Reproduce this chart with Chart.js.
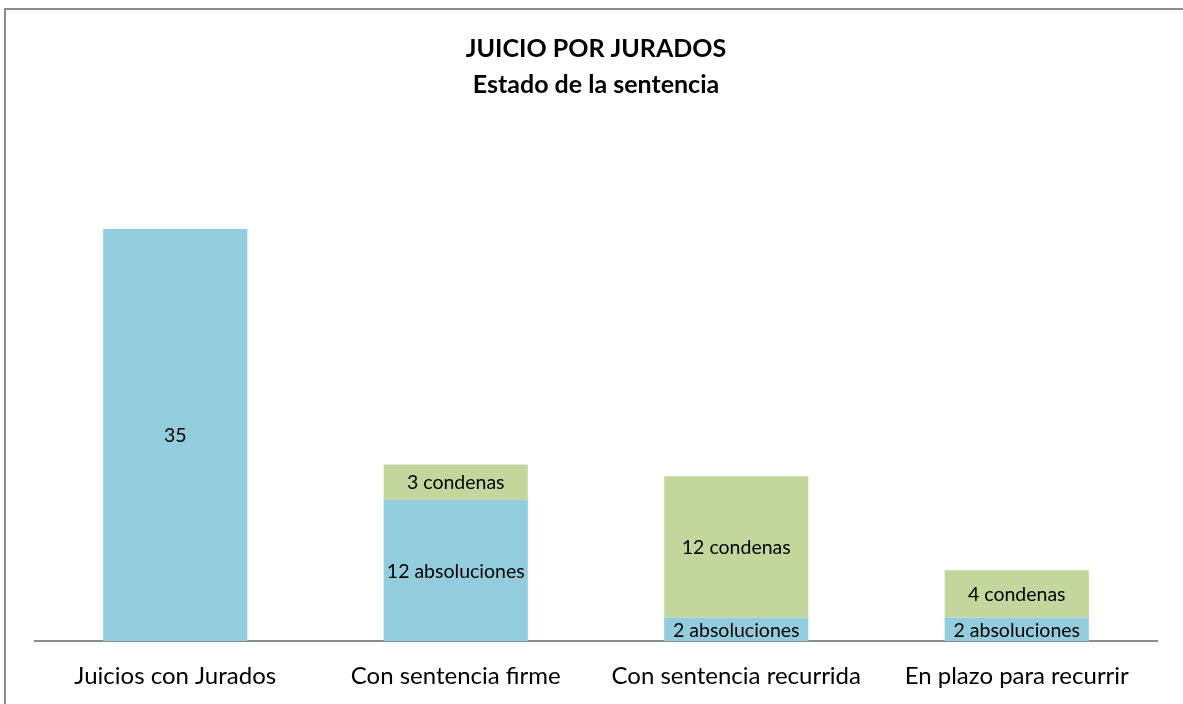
<!DOCTYPE html>
<html>
<head>
<meta charset="utf-8">
<script src="https://cdn.jsdelivr.net/npm/chart.js@4/dist/chart.umd.min.js"></script>
<style>
  html, body { margin: 0; padding: 0; background: #fff; }
  #wrap { width: 1183px; height: 704px; position: relative; }
</style>
</head>
<body>
<div id="wrap"><canvas id="chart"></canvas></div>
<script>
// ===== DATA =====
const categories = ["Juicios con Jurados", "Con sentencia firme", "Con sentencia recurrida", "En plazo para recurrir"];
const absoluciones = [35, 12, 2, 2];
const condenas = [0, 3, 12, 4];
const absSuffix = ["", " absoluciones", " absoluciones", " absoluciones"];
const conSuffix = [" condenas", " condenas", " condenas", " condenas"];
const titleLines = ["JUICIO POR JURADOS", "Estado de la sentencia"];

const FONT = "Lato, 'Open Sans', sans-serif";

// ===== PLUGINS =====
// gray frame on top and left edges
const framePlugin = {
  id: "frame",
  beforeDraw(chart) {
    const ctx = chart.ctx;
    ctx.save();
    ctx.strokeStyle = "#8c8c8c";
    ctx.lineWidth = 2;
    ctx.beginPath();
    ctx.moveTo(5, chart.height);
    ctx.lineTo(5, 9);
    ctx.lineTo(chart.width, 9);
    ctx.stroke();
    ctx.restore();
  }
};

// labels centered inside each bar segment
const segmentLabels = {
  id: "segmentLabels",
  afterDatasetsDraw(chart) {
    const ctx = chart.ctx;
    ctx.save();
    ctx.font = "19.5px " + FONT;
    ctx.fillStyle = "#000";
    ctx.textAlign = "center";
    ctx.textBaseline = "middle";
    chart.data.datasets.forEach((ds, di) => {
      chart.getDatasetMeta(di).data.forEach((bar, i) => {
        const v = ds.data[i];
        if (!v) return;
        const mid = (bar.y + bar.base) / 2;
        ctx.fillText(v + ds.suffix[i], bar.x, mid + 1);
      });
    });
    ctx.restore();
  }
};

// ===== CHART =====
new Chart(document.getElementById("chart"), {
  type: "bar",
  data: {
    labels: categories,
    datasets: [
      { label: "Absoluciones", data: absoluciones, suffix: absSuffix, backgroundColor: "#93cddd" },
      { label: "Condenas", data: condenas, suffix: conSuffix, backgroundColor: "#c3d69b" }
    ]
  },
  options: {
    responsive: true,
    maintainAspectRatio: false,
    animation: false,
    layout: { padding: { left: 35, right: 26, top: 11, bottom: 13 } },
    datasets: { bar: { categoryPercentage: 1, barPercentage: 0.514 } },
    plugins: {
      legend: { display: false },
      tooltip: { enabled: false },
      title: {
        display: true,
        text: titleLines,
        color: "#000",
        font: { family: FONT, size: 25, weight: "bold", lineHeight: 1.44 },
        padding: { top: 20, bottom: 67 }
      }
    },
    scales: {
      x: {
        stacked: true,
        grid: { display: false, drawTicks: false },
        border: { display: true, color: "#8c8c8c", width: 2 },
        ticks: { color: "#000", font: { family: FONT, size: 24 }, padding: 21, maxRotation: 0 },
        afterFit(scale) { scale.height = 50; }
      },
      y: {
        stacked: true,
        display: false,
        min: 0,
        max: 40
      }
    }
  },
  plugins: [framePlugin, segmentLabels]
});
</script>
</body>
</html>
